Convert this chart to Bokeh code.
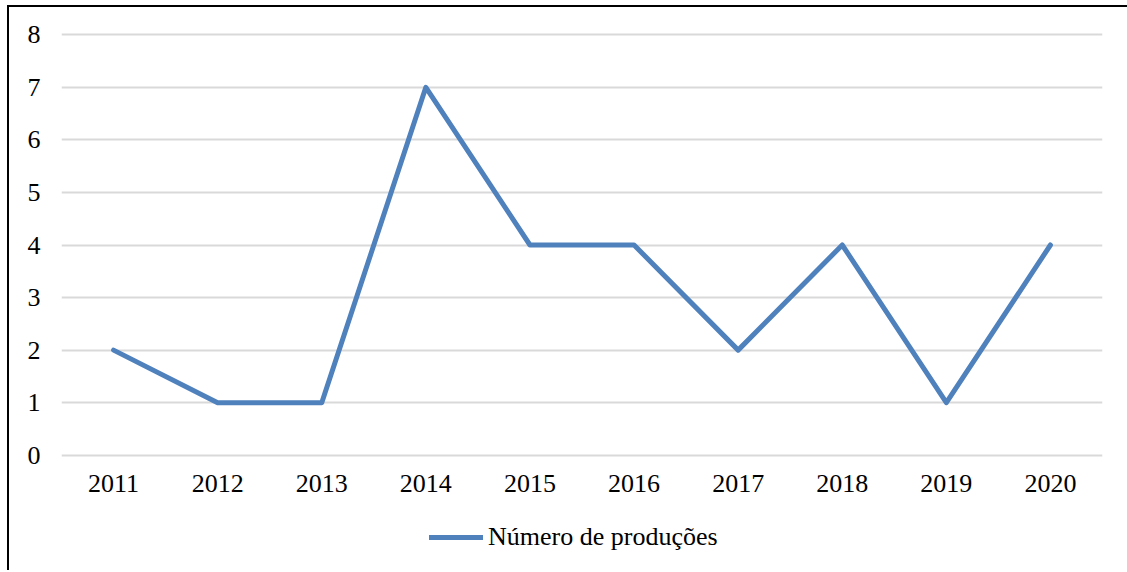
from bokeh.plotting import figure
from bokeh.models import Range1d, FactorRange, Legend, LegendItem, Spacer
from bokeh.layouts import row, column
from bokeh.embed import file_html
from bokeh.resources import INLINE

years = ["2011", "2012", "2013", "2014", "2015", "2016", "2017", "2018", "2019", "2020"]
producoes = [2, 1, 1, 7, 4, 4, 2, 4, 1, 4]
y_ticks = [0, 1, 2, 3, 4, 5, 6, 7, 8]
series_name = "Número de produções"

FONT = "Liberation Serif"
FS = "26px"
LINE = dict(line_color="#4f81bd", line_width=5, line_cap="round", line_join="round")

xr = FactorRange(*years, range_padding=0)

# main chart
p = figure(frame_width=1041, frame_height=431, output_backend="svg", toolbar_location=None,
           x_range=xr, y_range=Range1d(-0.1, 8.1),
           min_border_left=52, min_border_right=25, min_border_top=22, min_border_bottom=50)
p.outline_line_color = None
p.background_fill_color = "white"
p.border_fill_color = "white"

p.line(years, producoes, **LINE)

p.xgrid.grid_line_color = None
p.ygrid.grid_line_color = "#d9d9d9"
p.ygrid.grid_line_width = 2
p.yaxis.ticker = y_ticks

for ax in (p.xaxis[0], p.yaxis[0]):
    ax.axis_line_color = None
    ax.major_tick_line_color = None
    ax.minor_tick_line_color = None
    ax.major_tick_out = 0
    ax.major_tick_in = 0
    ax.minor_tick_out = 0
    ax.minor_tick_in = 0
    ax.major_label_text_font = FONT
    ax.major_label_text_font_size = FS
    ax.major_label_text_color = "black"
p.xaxis.major_label_standoff = 14
p.yaxis.major_label_standoff = 21

# legend strip below the chart
pl = figure(width=1118, height=60, output_backend="svg", toolbar_location=None,
            x_range=xr, y_range=Range1d(0, 1), x_axis_type=None, y_axis_type=None,
            min_border_left=0, min_border_right=0, min_border_top=0, min_border_bottom=0)
pl.outline_line_color = None
pl.xgrid.visible = False
pl.ygrid.visible = False
rl = pl.line(years, producoes, visible=False, **LINE)

legend = Legend(items=[LegendItem(label=series_name, renderers=[rl])],
                location=(368, 18), orientation="horizontal",
                padding=0, margin=0, border_line_color=None,
                background_fill_alpha=0, inactive_fill_alpha=0,
                glyph_width=54, glyph_height=30, label_height=30,
                label_standoff=5, label_text_font=FONT,
                label_text_font_size=FS, label_text_color="black")
pl.add_layout(legend, "center")

boxed = column(p, pl, spacing=0,
               styles={"border-top": "2px solid black", "border-left": "2px solid black"})
layout = row(Spacer(width=7, height=5), column(Spacer(width=5, height=5), boxed))

open("out.html", "w").write(file_html(layout, INLINE))
